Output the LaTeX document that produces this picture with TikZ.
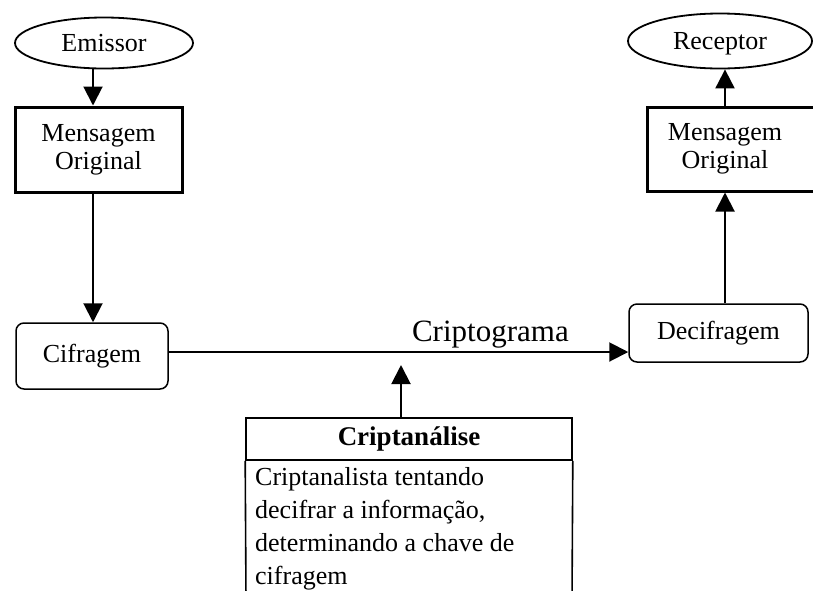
\documentclass[tikz,border=0pt]{standalone}
\usepackage{fontspec}
\setmainfont{Liberation Serif}
\usetikzlibrary{arrows.meta,shapes.geometric}
\begin{document}
\begin{tikzpicture}[x=1pt,y=-1pt,
  txt/.style={font=\fontsize{26}{28}\selectfont, align=center, inner sep=0pt},
  oval/.style={txt, ellipse, draw, line width=1.8pt, text height=17pt, text depth=0pt},
  msgbox/.style={txt, draw, line width=3pt},
  roundbox/.style={txt, draw, line width=1.5pt, rounded corners=8pt},
  arr/.style={line width=2pt, -{Triangle[length=19pt,width=19pt]}},
  plain/.style={line width=1.6pt}
]
\useasboundingbox (0,0) rectangle (813,590);
\clip (0,0) rectangle (813,590);

% left column
\node[oval, minimum width=178, minimum height=51] (emissor) at (104,43) {Emissor};
\node[msgbox, minimum width=167, minimum height=85] (msg1) at (98.5,149.5) {Mensagem\\Original};
\node[roundbox, minimum width=152, minimum height=66] (cif) at (92,356) {Cifragem};

% right column
\node[oval, minimum width=184, minimum height=55] (receptor) at (720,41) {Receptor};
\node[msgbox, minimum width=176, minimum height=84] (msg2) at (735,149) {};
\node[txt] (msg2t) at (725,149) {Mensagem\\Original};
\node[roundbox, minimum width=179, minimum height=58] (decif) at (718.5,333) {Decifragem};

% cryptanalysis box
\node[draw, line width=1.6pt, minimum width=326, minimum height=42, inner sep=0pt,
      font=\fontsize{27}{28}\selectfont\bfseries] (crh) at (409,439) {Criptanálise};
\coordinate (crbl) at (246,600);
\coordinate (crbr) at (572,600);
\draw[plain] (crh.south west) -- (crbl);
\draw[plain] (crh.south east) -- (crbr);
\node[anchor=north west, inner sep=0pt, align=left,
      font=\fontsize{26}{33}\selectfont] (crb) at (255,467)
  {Criptanalista tentando\\decifrar a informação,\\determinando a chave de\\cifragem};

% helper coordinates
\coordinate (lx) at (93,0);
\coordinate (rx) at (725,0);
\coordinate (ly) at (0,352);
\coordinate (cx) at (401,0);
\coordinate (ctip) at (401,365);

% connectors
\draw[arr] (emissor.south -| lx) -- (msg1.north -| lx);
\draw[arr] (msg1.south -| lx) -- (cif.north -| lx);
\draw[arr] (cif.east |- ly) -- (decif.west |- ly)
  node[pos=0.7, above=3pt, font=\fontsize{31}{33}\selectfont, inner sep=0pt] (cripto) {Criptograma};
\draw[arr] (crh.north -| cx) -- (ctip);
\draw[arr] (decif.north -| rx) -- (msg2.south -| rx);
\draw[arr] (msg2.north -| rx) -- (receptor.south -| rx);
\end{tikzpicture}
\end{document}
